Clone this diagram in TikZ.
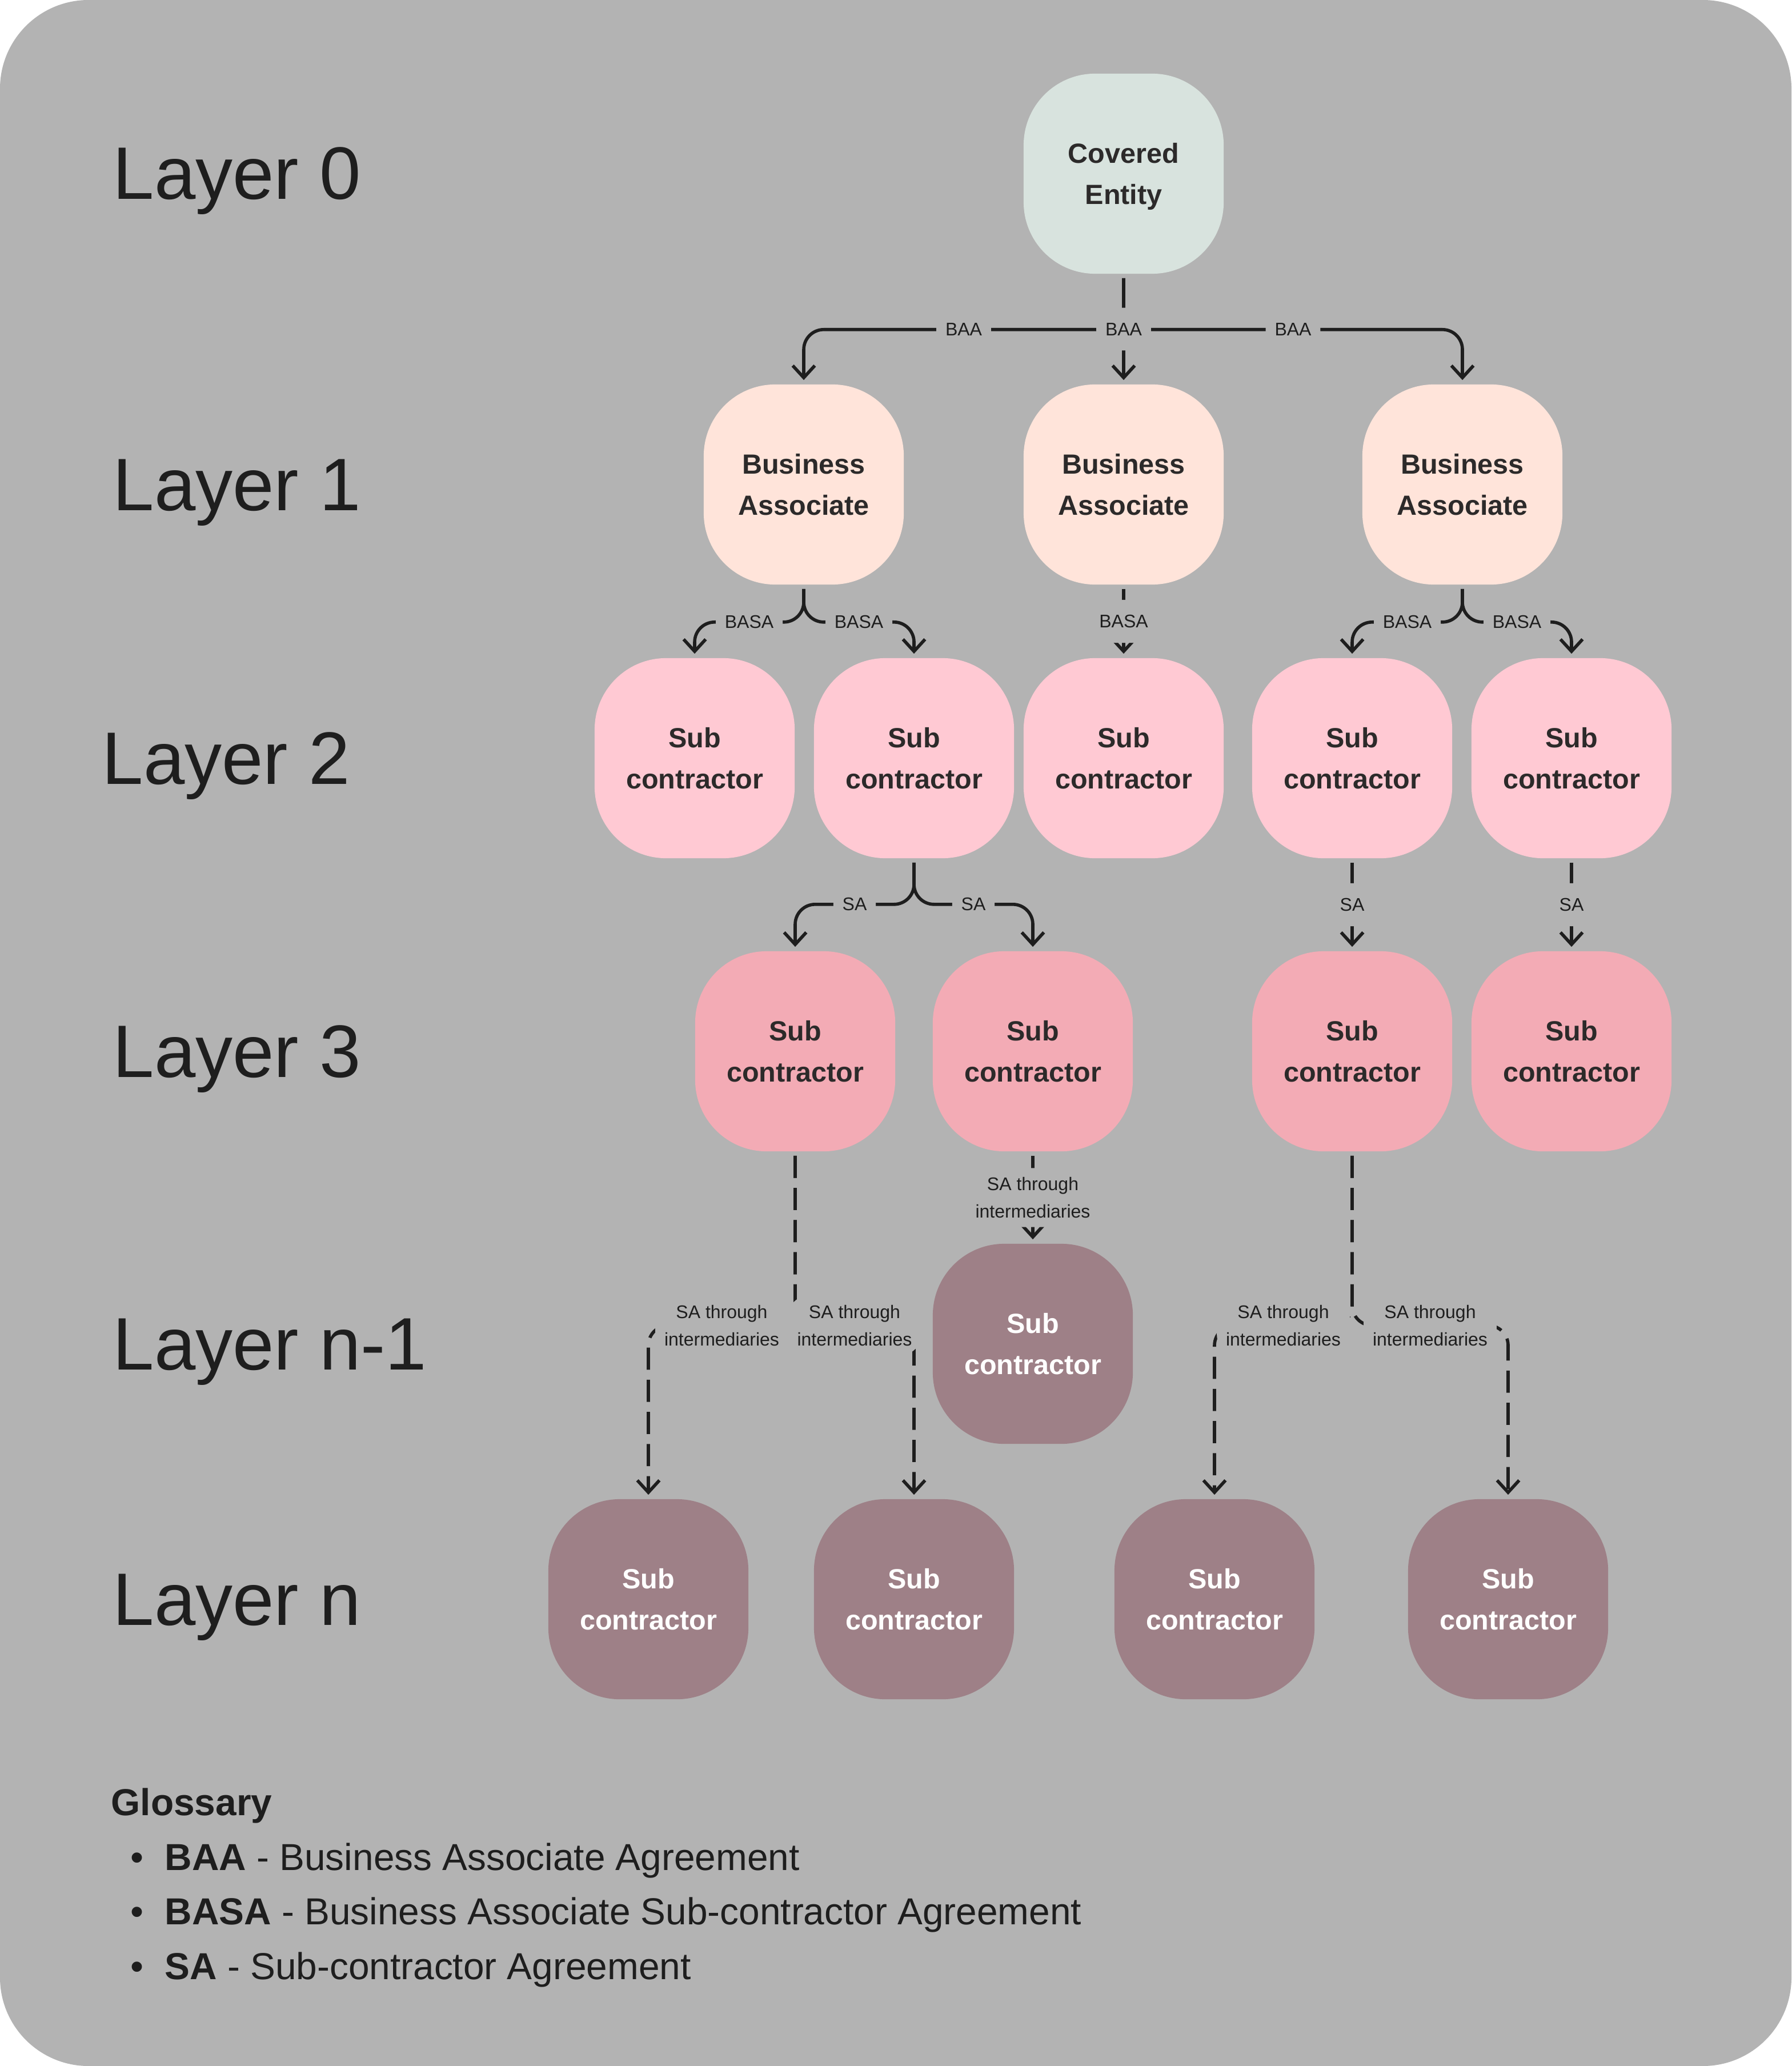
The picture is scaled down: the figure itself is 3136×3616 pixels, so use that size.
\documentclass[tikz,border=0pt]{standalone}
\usepackage{fontspec}
\setmainfont{Liberation Sans}
\usepackage{tikz}
\usetikzlibrary{arrows.meta}
\definecolor{canvas}{HTML}{B3B3B3}
\definecolor{ink}{HTML}{1E1E1E}
\definecolor{boxink}{HTML}{2C2A2A}
\definecolor{cefill}{HTML}{D8E3DE}
\definecolor{bafill}{HTML}{FFE4DA}
\definecolor{lvtwo}{HTML}{FFC9D3}
\definecolor{lvthree}{HTML}{F3ABB5}
\definecolor{lvn}{HTML}{9E8087}
\tikzset{
  box/.style={rounded corners=1.25cm,minimum width=3.5cm,minimum height=3.5cm,
    align=center,text=boxink,text depth=0pt,inner sep=0pt,
    font=\bfseries\fontsize{13.8}{20.5}\selectfont},
  conn/.style={draw=ink,line width=1.6pt,rounded corners=0.35cm,
    -{Straight Barb[length=6pt,width=11pt]},shorten >=2pt,shorten <=2pt},
  via/.style={conn,dash pattern=on 11pt off 5pt},
  lbl/.style={fill=canvas,inner xsep=4.5pt,inner ysep=7.5pt,text=ink,align=center,
    font=\fontsize{9.1}{13.7}\selectfont},
  vialbl/.style={lbl,inner ysep=4.5pt},
  layername/.style={anchor=base west,inner sep=0pt,text=ink,font=\fontsize{37}{44}\selectfont},
  glossitem/.style={anchor=base west,inner sep=0pt,text=ink,font=\fontsize{18.7}{27}\selectfont},
  dot/.style={anchor=base,inner sep=0pt,text=ink,font=\fontsize{18.7}{27}\selectfont},
}
\begin{document}
\begin{tikzpicture}[x=0.01cm,y=-0.01cm]
  % canvas
  \fill[white] (0,0) rectangle (3136,3616);
  \fill[canvas,rounded corners=1.55cm] (0,0) rectangle (3136,3616);
  \useasboundingbox (0,0) rectangle (3136,3616);

  % layer names
  \node[layername] (lay0) at (197,349) {Layer 0};
  \node[layername] (lay1) at (197,893) {Layer 1};
  \node[layername] (lay2) at (178,1372) {Layer 2};
  \node[layername] (lay3) at (197,1885) {Layer 3};
  \node[layername] (laynm) at (197,2397) {Layer n-1};
  \node[layername] (layn) at (197,2844) {Layer n};

  % layer 0 and 1
  \node[box,fill=cefill] (ce) at (1967,304) {Covered\\Entity};
  \node[box,fill=bafill] (ba1) at (1407,848) {Business\\Associate};
  \node[box,fill=bafill] (ba2) at (1967,848) {Business\\Associate};
  \node[box,fill=bafill] (ba3) at (2560,848) {Business\\Associate};

  % layer 2
  \node[box,fill=lvtwo] (s21) at (1216,1327) {Sub\\contractor};
  \node[box,fill=lvtwo] (s22) at (1600,1327) {Sub\\contractor};
  \node[box,fill=lvtwo] (s23) at (1967,1327) {Sub\\contractor};
  \node[box,fill=lvtwo] (s24) at (2367,1327) {Sub\\contractor};
  \node[box,fill=lvtwo] (s25) at (2751,1327) {Sub\\contractor};

  % layer 3
  \node[box,fill=lvthree] (s31) at (1392,1840) {Sub\\contractor};
  \node[box,fill=lvthree] (s32) at (1808,1840) {Sub\\contractor};
  \node[box,fill=lvthree] (s33) at (2367,1840) {Sub\\contractor};
  \node[box,fill=lvthree] (s34) at (2751,1840) {Sub\\contractor};

  % layer n-1 and n
  \node[box,fill=lvn,text=white] (snm) at (1808,2352) {Sub\\contractor};
  \node[box,fill=lvn,text=white] (n1) at (1135,2799) {Sub\\contractor};
  \node[box,fill=lvn,text=white] (n2) at (1600,2799) {Sub\\contractor};
  \node[box,fill=lvn,text=white] (n3) at (2126,2799) {Sub\\contractor};
  \node[box,fill=lvn,text=white] (n4) at (2640,2799) {Sub\\contractor};

  % BAA
  \draw[conn] (ce.south) -- ++(0,97) -| node[lbl,pos=0.25] {BAA} (ba1.north);
  \draw[conn] (ce.south) -- ++(0,97) -| node[lbl,pos=0.25] {BAA} (ba3.north);
  \draw[conn] (ce.south) -- node[lbl] {BAA} (ba2.north);

  % BASA
  \draw[conn] (ba1.south) -- ++(0,65) -| node[lbl,pos=0.25] {BASA} (s21.north);
  \draw[conn] (ba1.south) -- ++(0,65) -| node[lbl,pos=0.25] {BASA} (s22.north);
  \draw[conn] (ba2.south) -- node[lbl] {BASA} (s23.north);
  \draw[conn] (ba3.south) -- ++(0,65) -| node[lbl,pos=0.25] {BASA} (s24.north);
  \draw[conn] (ba3.south) -- ++(0,65) -| node[lbl,pos=0.25] {BASA} (s25.north);

  % SA
  \draw[conn] (s22.south) -- ++(0,80) -| node[lbl,pos=0.25] {SA} (s31.north);
  \draw[conn] (s22.south) -- ++(0,80) -| node[lbl,pos=0.25] {SA} (s32.north);
  \draw[conn] (s24.south) -- node[lbl] {SA} (s33.north);
  \draw[conn] (s25.south) -- node[lbl] {SA} (s34.north);

  % SA through intermediaries
  \draw[via] (s31.south) -- ++(0,304) -| node[vialbl,pos=0.25] {SA through\\intermediaries} (n1.north);
  \draw[via] (s31.south) -- ++(0,304) -| node[vialbl,pos=0.25] {SA through\\intermediaries} (n2.north);
  \draw[via] (s32.south) -- node[vialbl] {SA through\\intermediaries} (snm.north);
  \draw[via] (s33.south) -- ++(0,304) -| node[vialbl,pos=0.25] {SA through\\intermediaries} (n3.north);
  \draw[via] (s33.south) -- ++(0,304) -| node[vialbl,pos=0.25] {SA through\\intermediaries} (n4.north);

  % glossary
  \node[glossitem,font=\bfseries\fontsize{18.7}{27}\selectfont] (gloss) at (194,3177) {Glossary};
  \node[dot] at (240,3273) {•};
  \node[glossitem] (g1) at (288,3273) {\textbf{BAA} - Business Associate Agreement};
  \node[dot] at (240,3368) {•};
  \node[glossitem] (g2) at (288,3368) {\textbf{BASA} - Business Associate Sub-contractor Agreement};
  \node[dot] at (240,3464) {•};
  \node[glossitem] (g3) at (288,3464) {\textbf{SA} - Sub-contractor Agreement};
\end{tikzpicture}
\end{document}
